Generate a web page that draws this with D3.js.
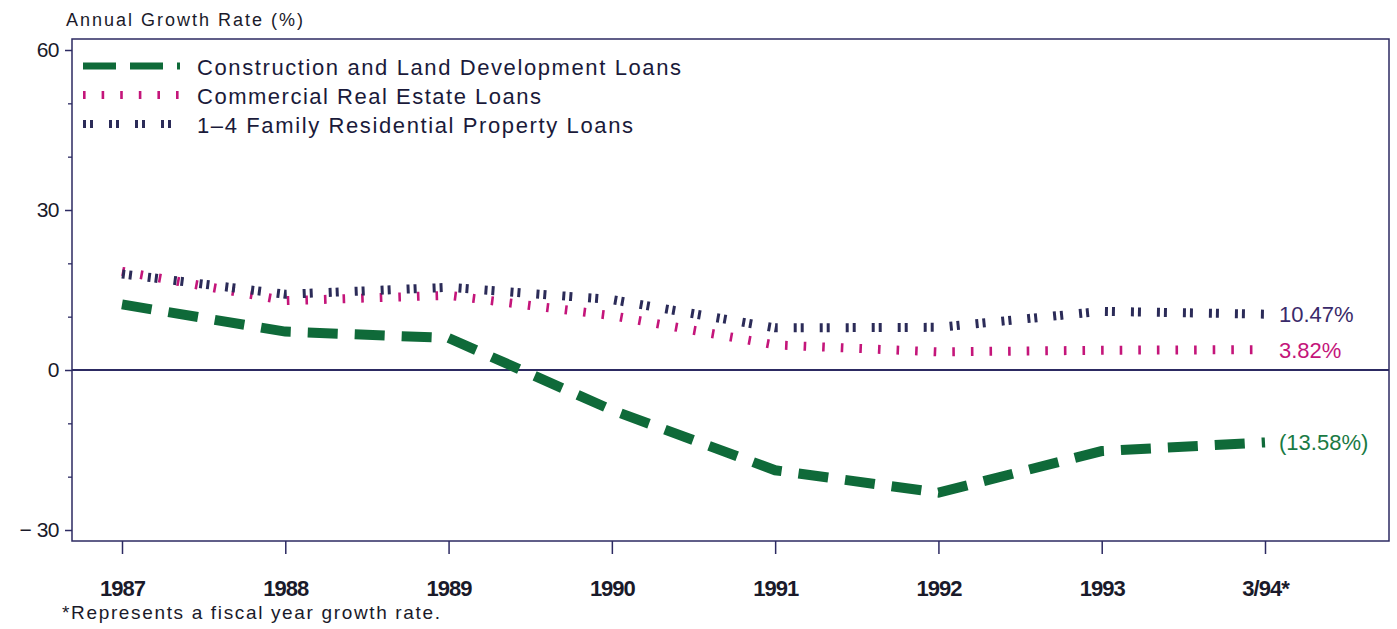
<!DOCTYPE html>
<html><head><meta charset="utf-8">
<script src="https://cdn.jsdelivr.net/npm/d3@7"></script>
<style>body{margin:0;background:#fff}svg{display:block}text{font-family:"Liberation Sans",Arial,sans-serif}</style>
</head><body><svg id="c" width="1397" height="629"></svg>
<script>
const categories = ["1987","1988","1989","1990","1991","1992","1993","3/94*"];
const construction = [12.3, 7.2, 6.0, -7.5, -18.8, -23.0, -15.2, -13.58];
const commercial = [18.5, 13.0, 14.0, 10.2, 4.7, 3.4, 3.7, 3.82];
const residential = [18.0, 14.2, 15.5, 13.2, 7.9, 8.0, 11.0, 10.47];
const seriesNames = ["Construction and Land Development Loans","Commercial Real Estate Loans","1\u20134 Family Residential Property Loans"];
const endLabels = ["(13.58%)","3.82%","10.47%"];
const yTicks = [60,30,0,-30];
const yTickLabels = ["60","30","0","\u2212 30"];
const yMinorTicks = [50,40,20,10,-10,-20];

const svg = d3.select("#c");
const L=72,R=1389,T=39,B=541;
const x = d3.scalePoint().domain(categories).range([122,1265]);
const y = d3.scaleLinear().domain([-30,60]).range([530,50]);
const axisCol="#2c2a62";
const txt="#1a1a2a";

// frame
svg.append("rect").attr("x",L).attr("y",T).attr("width",R-L).attr("height",B-T)
  .attr("fill","none").attr("stroke",axisCol).attr("stroke-width",1.5);
// zero line
svg.append("line").attr("x1",L).attr("x2",R).attr("y1",y(0)).attr("y2",y(0)).attr("stroke",axisCol).attr("stroke-width",1.8);

// y axis
const ya = d3.axisLeft(y).tickValues(yTicks).tickFormat((d,i)=>yTickLabels[i]).tickSize(7).tickPadding(6);
const gy = svg.append("g").attr("transform",`translate(${L},0)`).call(ya);
gy.select(".domain").remove();
gy.selectAll(".tick line").attr("stroke",axisCol).attr("stroke-width",1.5);
gy.selectAll(".tick text").attr("font-size",21).attr("fill",txt).attr("letter-spacing","-0.5");
const gm = svg.append("g").attr("transform",`translate(${L},0)`).call(d3.axisLeft(y).tickValues(yMinorTicks).tickSize(4).tickFormat(""));
gm.select(".domain").remove();
gm.selectAll(".tick line").attr("stroke",axisCol).attr("stroke-width",1.3);

// x axis
const xa = d3.axisBottom(x).tickSize(13).tickPadding(26);
const gx = svg.append("g").attr("transform",`translate(0,${B})`).call(xa);
gx.select(".domain").remove();
gx.selectAll(".tick line").attr("stroke",axisCol).attr("stroke-width",1.5);
gx.selectAll(".tick text").attr("font-size",22).attr("font-weight","bold").attr("fill",txt).attr("letter-spacing","-1");

const line = d3.line().x((d,i)=>x(categories[i])).y(d=>y(d));
const styles = [
  {data:construction,color:"#0f6a39",w:10,dash:"30,17",label:endLabels[0]},
  {data:commercial,color:"#c4157a",w:9,dash:"2.6,16",label:endLabels[1]},
  {data:residential,color:"#2b2b58",w:9,dash:"3,4,3,16",label:endLabels[2]}
];
const labelCols=["#1a7a44","#c4157a","#3a2a6a"];
styles.forEach((s,i)=>{
  svg.append("path").datum(s.data).attr("d",line).attr("fill","none")
    .attr("stroke",s.color).attr("stroke-width",s.w).attr("stroke-dasharray",s.dash);
  svg.append("text").attr("x",x(categories[7])+14).attr("y",y(s.data[7])+8)
    .attr("font-size",22).attr("fill",labelCols[i]).text(s.label);
});

// legend
const legY=[67,96,125];
const legW=[484,344,436];
styles.forEach((s,i)=>{
  svg.append("line").attr("x1",83).attr("x2",180).attr("y1",legY[i]-1).attr("y2",legY[i]-1)
    .attr("stroke",s.color).attr("stroke-width",i===0?7:8).attr("stroke-dasharray",i===0?"33,14":(i===1?"2.6,16":"3,4,3,16"));
  svg.append("text").attr("x",197).attr("y",legY[i]+8).attr("font-size",22).attr("fill","#1a1a3a")
    .attr("textLength",legW[i]).attr("lengthAdjust","spacing").text(seriesNames[i]);
});

svg.append("text").attr("x",66).attr("y",26).attr("font-size",18).attr("fill",txt)
  .attr("textLength",237).attr("lengthAdjust","spacing").text("Annual Growth Rate (%)");
svg.append("text").attr("x",62).attr("y",619).attr("font-size",19).attr("fill",txt)
  .attr("textLength",378).attr("lengthAdjust","spacing").text("*Represents a fiscal year growth rate.");
</script></body></html>
